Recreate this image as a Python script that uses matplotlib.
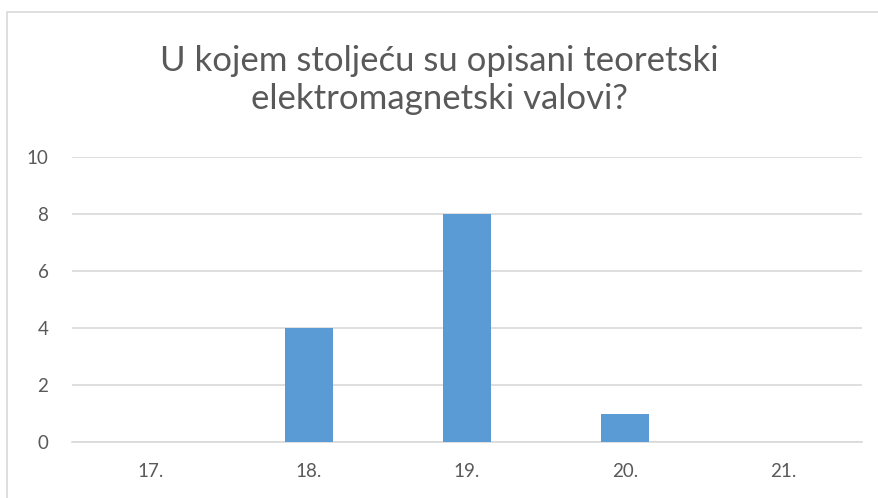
import matplotlib
matplotlib.use('Agg')
import matplotlib.pyplot as plt
from matplotlib.patches import Rectangle
import numpy as np

categories = ['17.', '18.', '19.', '20.', '21.']
counts = [0, 4, 8, 1, 0]
title = 'U kojem stoljeću su opisani teoretski\nelektromagnetski valovi?'

plt.rcParams['font.family'] = ['Lato', 'DejaVu Sans']

W, H = 879, 498
fig = plt.figure(figsize=(W / 100, H / 100), dpi=100)
ax = fig.add_axes([72 / W, 1 - 442 / H, (862 - 72) / W, (442 - 157) / H])

# chart frame (cropped at right and bottom)
fig.patches.append(Rectangle((7.5 / W, -0.1), 1.2, 0.1 + 1 - 12.5 / H,
                             transform=fig.transFigure, fill=False,
                             edgecolor='#d9d9d9', lw=1.2))

x = np.arange(len(categories))
ax.bar(x, counts, width=0.31, color='#5b9bd5', zorder=3)

ax.set_xlim(-0.5, len(categories) - 0.5)
ax.set_ylim(0, 10)
ax.set_yticks([0, 2, 4, 6, 8, 10])
ax.set_xticks(x)
ax.set_xticklabels(categories)
ax.yaxis.grid(True, color='#d9d9d9', lw=1.2, zorder=0)
for s in ['top', 'right', 'left']:
    ax.spines[s].set_visible(False)
ax.spines['bottom'].set_color('#d9d9d9')
ax.spines['bottom'].set_linewidth(1.2)
ax.tick_params(length=0, labelsize=13.5, colors='#595959')
ax.tick_params(axis='y', pad=17)
ax.tick_params(axis='x', pad=15)

fig.text(0.5, 1 - 80 / H, title, ha='center', va='center', fontsize=25,
         color='#595959', linespacing=1.25)

fig.savefig('out.png', dpi=100)
